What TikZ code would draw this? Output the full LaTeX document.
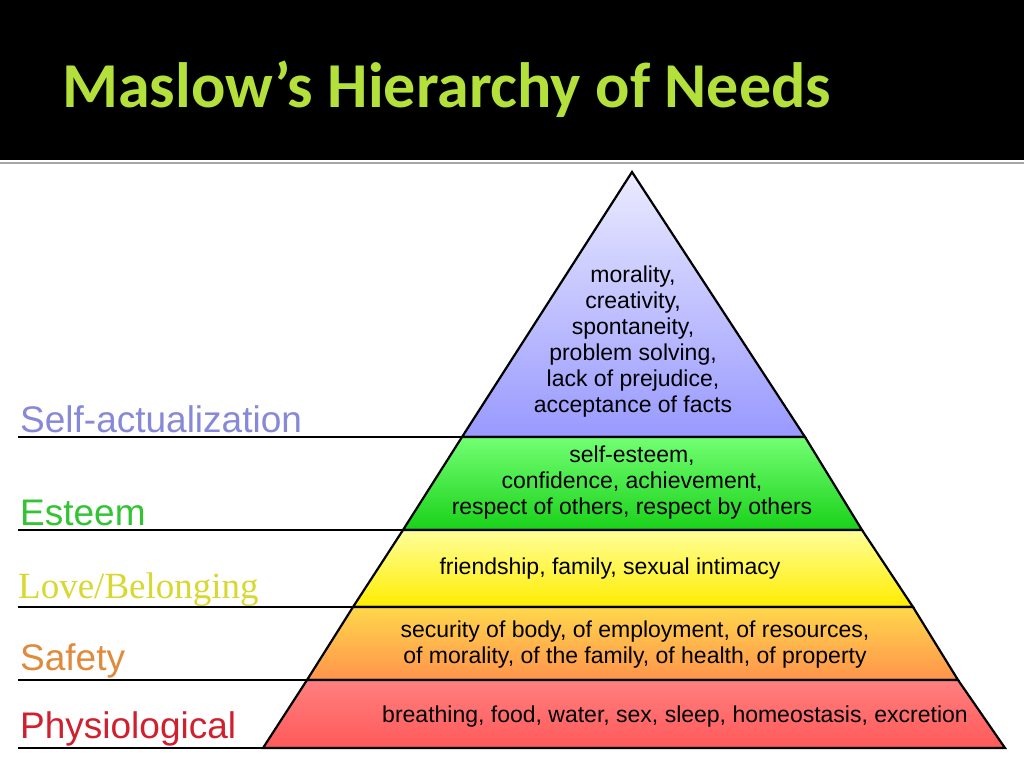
\documentclass[tikz,border=0pt]{standalone}
\usepackage{fontspec}
\setmainfont{Liberation Sans}
\newfontfamily\titlefont{Carlito}
\newfontfamily\seriffont{Liberation Serif}

\definecolor{titlegreen}{HTML}{B4E03C}
\definecolor{selfcol}{HTML}{8888D8}
\definecolor{esteemcol}{HTML}{33C433}
\definecolor{lovecol}{HTML}{D8D830}
\definecolor{safetycol}{HTML}{E08A3C}
\definecolor{physcol}{HTML}{D02030}

\tikzset{
  layer/.style={draw=black, line width=2.2pt, line join=miter},
  level/.style={font=\fontsize{37}{37}\selectfont, anchor=base west, inner sep=0pt},
  need/.style={font=\fontsize{23}{26}\selectfont, align=center, inner sep=0pt},
  rule/.style={draw=black, line width=2.2pt}
}

\begin{document}
\begin{tikzpicture}[x=1pt, y=-1pt]
    \useasboundingbox (0,0) rectangle (1024,768);
    \fill [white] (0,0) rectangle (1024,768);
    \fill [black] (0,0) rectangle (1024,160);
    \draw [gray!70, line width=1.2pt] (0,163) -- (1024,163);
    \node [font=\titlefont\bfseries\fontsize{64}{64}\selectfont, text=titlegreen, anchor=base west, inner sep=0pt] (title) at (62,107) {Maslow’s Hierarchy of Needs};

    % pyramid corners
    \coordinate (apex) at (632,172);
    \coordinate (l1) at (462,437); \coordinate (r1) at (805,437);
    \coordinate (l2) at (403,530); \coordinate (r2) at (862,530);
    \coordinate (l3) at (353,607); \coordinate (r3) at (913,607);
    \coordinate (l4) at (307,680); \coordinate (r4) at (958,680);
    \coordinate (l5) at (263,748); \coordinate (r5) at (1005,748);

    % layers
    \shade [layer, top color=blue!8!white, bottom color=blue!40!white] (apex) -- (r1) -- (l1) -- cycle;
    \shade [layer, top color=green!55!white, bottom color=green!80!black!90] (l1) -- (r1) -- (r2) -- (l2) -- cycle;
    \shade [layer, top color=yellow!40!white, bottom color=yellow!85!orange] (l2) -- (r2) -- (r3) -- (l3) -- cycle;
    \shade [layer, top color=orange!45!yellow!70, bottom color=orange!80!red!70] (l3) -- (r3) -- (r4) -- (l4) -- cycle;
    \shade [layer, top color=red!50!white, bottom color=red!65] (l4) -- (r4) -- (r5) -- (l5) -- cycle;

    % rules to the labels
    \coordinate (s1) at (18,437);
    \coordinate (s2) at (18,530);
    \coordinate (s3) at (18,607);
    \coordinate (s4) at (18,680);
    \coordinate (s5) at (18,748);
    \draw [rule] (s1) -- (l1);
    \draw [rule] (s2) -- (l2);
    \draw [rule] (s3) -- (l3);
    \draw [rule] (s4) -- (l4);
    \draw [rule] (s5) -- (l5);

    % level names
    \node [level, text=selfcol] (self) at (20,432) {Self-actualization};
    \node [level, text=esteemcol] (esteem) at (20,525) {Esteem};
    \node [level, text=lovecol, font=\seriffont\fontsize{37}{37}\selectfont] (love) at (18,598) {Love/Belonging};
    \node [level, text=safetycol] (safety) at (20,670) {Safety};
    \node [level, text=physcol] (phys) at (20,738) {Physiological};

    % needs
    \node [need] (selftext) at (633,342) {morality,\\creativity,\\spontaneity,\\problem solving,\\lack of prejudice,\\acceptance of facts};
    \node [need] (esteemtext) at (632,483) {self-esteem,\\confidence, achievement,\\respect of others, respect by others};
    \node [need] (lovetext) at (610,569) {friendship, family, sexual intimacy};
    \node [need] (safetytext) at (635,645) {security of body, of employment, of resources,\\of morality, of the family, of health, of property};
    \node [need] (phystext) at (675,717) {breathing, food, water, sex, sleep, homeostasis, excretion};
\end{tikzpicture}
\end{document}
